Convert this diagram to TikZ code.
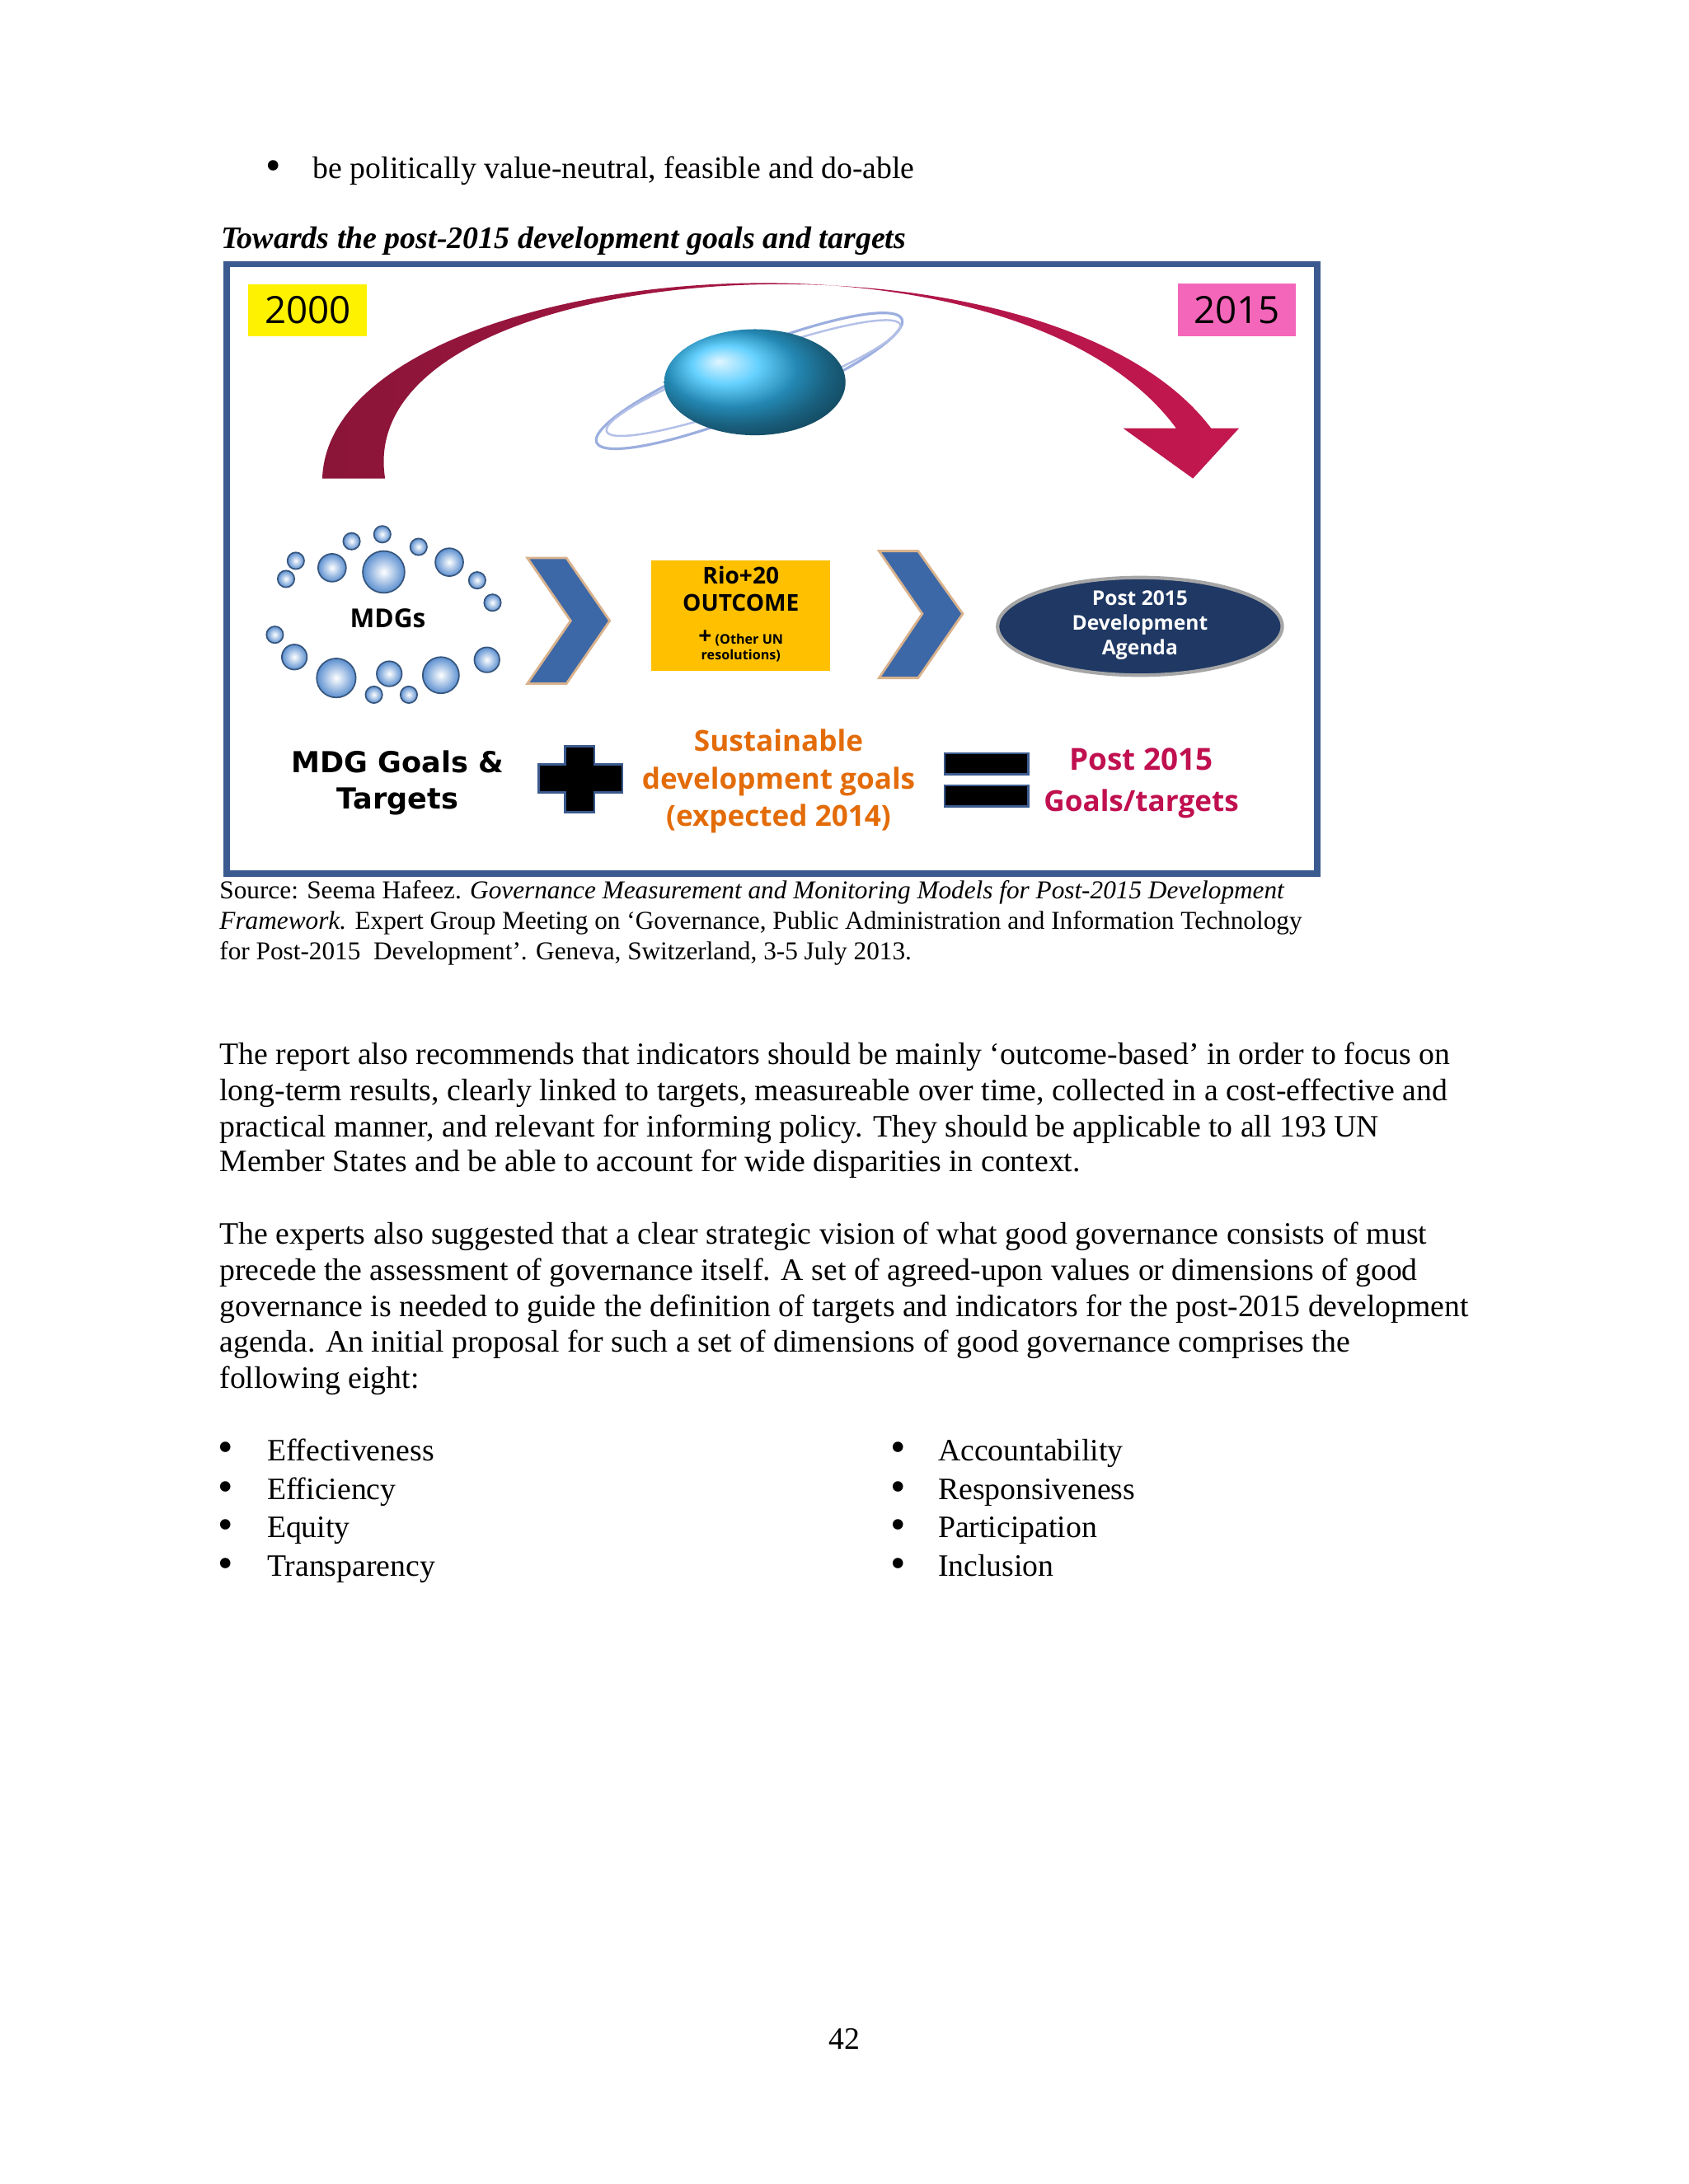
\documentclass[tikz,border=0pt]{standalone}
\usepackage{fontspec}
\setmainfont{Liberation Serif}
\newfontfamily\djsans{DejaVu Sans}
\newfontfamily\ossans{Open Sans}
\usetikzlibrary{shapes.geometric}
\definecolor{frameblue}{HTML}{3B5A8F}
\definecolor{crimsonA}{HTML}{8A1538}
\definecolor{crimsonB}{HTML}{C41750}
\definecolor{chev}{HTML}{3D68A8}
\definecolor{rio}{HTML}{FFC000}
\definecolor{navy}{HTML}{1F3864}
\definecolor{sdg}{HTML}{E36C09}
\definecolor{postc}{HTML}{C0104F}
\definecolor{bub}{HTML}{5B8FD0}
\tikzset{
 body/.style={anchor=base west,inner sep=0pt,font=\fontsize{10.75}{12}\selectfont},
 bul/.style={anchor=base west,inner sep=0pt,font=\fontsize{15}{12}\selectfont},
 src/.style={anchor=base west,inner sep=0pt,font=\fontsize{8.9}{10}\selectfont},
 bubble/.style={circle,draw=bub!60!black,line width=0.5pt,inner color=white,outer color=bub,inner sep=0pt},
 chevron/.style={fill=chev,draw=brown!60,line width=0.8pt},
 dtext/.style={font=\ossans\bfseries,align=center,inner sep=0pt},
}
\begin{document}
\begin{tikzpicture}[x=0.01693cm,y=-0.01693cm]
\useasboundingbox (0,0) rectangle (1210,1565.6);
\fill[white] (0,0) rectangle (1210,1565.6);
% top text
\node[bul] (b0) at (190,129) {•};
\node[body] (t0) at (224,128) {be politically value-neutral, feasible and do-able};
\node[body,font=\fontsize{10.8}{12}\selectfont\bfseries\itshape] (cap) at (158,178) {Towards the post-2015 development goals and targets};
% frame
\node[draw=frameblue,line width=2.2pt,minimum width=782*0.01693cm,minimum height=437*0.01693cm,anchor=north west,inner sep=0pt] (frame) at (160,187) {};
% year boxes
\node[fill=yellow,minimum width=85*0.01693cm,minimum height=37*0.01693cm,font=\ossans\fontsize{13}{14}\selectfont,inner sep=0pt] (y0) at (220.5,222.5) {2000};
\node[fill=magenta!60,minimum width=85*0.01693cm,minimum height=38*0.01693cm,font=\ossans\fontsize{13}{14}\selectfont,inner sep=0pt] (y1) at (886.5,222) {2015};
% big arc arrow
\shade[left color=crimsonA,right color=crimsonB]
 (231,343) .. controls (236,190) and (720,140) .. (843,307)
 -- (805,307) -- (855,343) -- (888,307) -- (868,307)
 .. controls (750,150) and (250,180) .. (276,343) -- cycle;
% globe
\draw[cyan!40!blue!40,line width=0.9pt,rotate around={22:(537,273)}] (537,273) ellipse (118 and 22);
\draw[cyan!40!blue!30,line width=0.7pt,rotate around={20:(540,271)}] (540,271) ellipse (112 and 17);
\shade[ball color=cyan!70!blue!80!white] (541,274) ellipse (65 and 38);
\node (globe) at (541,274) {};
% bubbles
\foreach \x/\y/\r [count=\i] in {275/410/15,238/407/10,322/403/10,252/388/6,274/383/6,300/392/6,212/402/6,205/415/6,342/416/6,353/432/6,197/455/6,211/471/9,241/486/14,279/483/9,316/484/13,349/473/9,268/498/6,293/498/6}
  \node[bubble,minimum size=2*\r*0.01693cm] (bb\i) at (\x,\y) {};
\node[dtext,font=\ossans\bfseries\fontsize{9}{10}\selectfont] (mdg) at (278,443) {MDGs};
% chevrons
\draw[chevron] (378,400) -- (406,400) -- (437,445) -- (406,490) -- (378,490) -- (409,445) -- cycle;
\draw[chevron] (630,395) -- (658,395) -- (690,440) -- (658,486) -- (630,486) -- (661,440) -- cycle;
\node (ch1) at (407,445) {};
\node (ch2) at (660,440) {};
% rio box
\node[fill=rio,minimum width=128*0.01693cm,minimum height=79*0.01693cm,inner sep=0pt] (rio) at (531,441.5) {};
\node[dtext,font=\ossans\bfseries\fontsize{8}{9.5}\selectfont] (riot) at (531,422) {Rio+20\\OUTCOME};
\node[dtext,font=\ossans\bfseries\fontsize{4.6}{5.5}\selectfont] (riosub) at (531,463) {{\fontsize{8}{8}\selectfont+} (Other UN\\resolutions)};
% ellipse
\node[ellipse,fill=navy,draw=gray!70,line width=1.2pt,minimum width=204*0.01693cm,minimum height=70*0.01693cm,inner sep=0pt] (post) at (817,449) {};
\node[dtext,text=white,font=\ossans\bfseries\fontsize{7}{8.6}\selectfont] (postt) at (817,448) {Post 2015\\Development\\Agenda};
% bottom row
\node[dtext,font=\djsans\bfseries\fontsize{10}{12.5}\selectfont] (mdgg) at (285,561) {MDG Goals \&\\Targets};
\fill[black,draw=frameblue,line width=0.8pt] (405,535) -- (426,535) -- (426,548) -- (446,548) -- (446,568) -- (426,568) -- (426,582) -- (405,582) -- (405,568) -- (386,568) -- (386,548) -- (405,548) -- cycle;
\node (plus) at (416,558) {};
\node[dtext,text=sdg,font=\ossans\bfseries\fontsize{10}{13}\selectfont] (sdgt) at (558,560) {Sustainable\\development goals\\(expected 2014)};
\fill[black,draw=frameblue,line width=0.8pt] (677,540) rectangle (737,555);
\fill[black,draw=frameblue,line width=0.8pt] (677,563) rectangle (737,578);
\node (eq) at (707,559) {};
\node[dtext,text=postc,font=\ossans\bfseries\fontsize{10.5}{13}\selectfont] (p1) at (818,544) {Post 2015};
\node[dtext,text=postc,font=\ossans\bfseries\fontsize{10}{13}\selectfont] (p2) at (818,576) {Goals/targets};
% source
\node[src] (s1) at (157,644) {Source: Seema Hafeez. \textit{Governance Measurement and Monitoring Models for Post-2015 Development}};
\node[src] (s2) at (157,666) {\textit{Framework.} Expert Group Meeting on ‘Governance, Public Administration and Information Technology};
\node[src] (s3) at (157,688) {for Post-2015\ \ Development’. Geneva, Switzerland, 3-5 July 2013.};
% paragraph 1
\node[body] (a1) at (157,763) {The report also recommends that indicators should be mainly ‘outcome-based’ in order to focus on};
\node[body] (a2) at (157,789) {long-term results, clearly linked to targets, measureable over time, collected in a cost-effective and};
\node[body] (a3) at (157,815) {practical manner, and relevant for informing policy. They should be applicable to all 193 UN};
\node[body] (a4) at (157,840) {Member States and be able to account for wide disparities in context.};
% paragraph 2
\node[body] (c1) at (157,892) {The experts also suggested that a clear strategic vision of what good governance consists of must};
\node[body] (c2) at (157,918) {precede the assessment of governance itself. A set of agreed-upon values or dimensions of good};
\node[body] (c3) at (157,944) {governance is needed to guide the definition of targets and indicators for the post-2015 development};
\node[body] (c4) at (157,969) {agenda. An initial proposal for such a set of dimensions of good governance comprises the};
\node[body] (c5) at (157,995) {following eight:};
% bullets
\foreach \t/\u/\y [count=\i] in {Effectiveness/Accountability/1047,Efficiency/Responsiveness/1075,Equity/Participation/1102,Transparency/Inclusion/1130}{
  \node[bul] (lb\i) at (156,\y+1) {•};
  \node[body] (lt\i) at (191,\y) {\t};
  \node[bul] (rb\i) at (638,\y+1) {•};
  \node[body] (rt\i) at (672,\y) {\u};
}
\node[body,anchor=base] (pg) at (605,1469) {42};
\end{tikzpicture}
\end{document}
